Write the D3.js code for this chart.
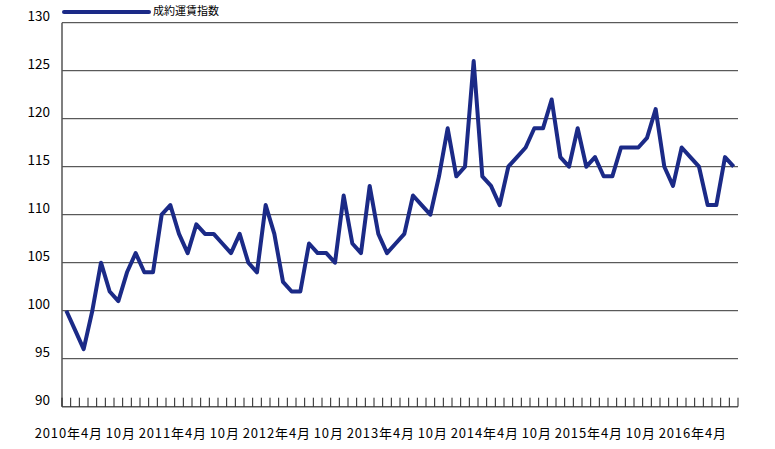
<!DOCTYPE html>
<html><head><meta charset="utf-8">
<script src="https://cdn.jsdelivr.net/npm/d3@7"></script>
<style>
body{margin:0;background:#fff;}
text{font-family:"Noto Sans CJK JP","Noto Sans",sans-serif;fill:#000;}
</style></head>
<body><svg id="c" width="775" height="449"></svg>
<script>
// Monthly index, 2010年4月 .. 2016年9月
const months = d3.range(78).map(i => { const m = 3 + i; return {y: 2010 + Math.floor(m / 12), m: (m % 12) + 1}; });
const values = [100,98,96,100,105,102,101,104,106,104,104,110,111,108,106,109,108,108,107,106,108,105,104,111,
  108,103,102,102,107,106,106,105,112,107,106,113,108,106,107,108,112,111,110,114,119,114,115,126,
  114,113,111,115,116,117,119,119,122,116,115,119,115,116,114,114,117,117,117,118,121,115,113,117,
  116,115,111,111,116,115];
const yTicks = [90,95,100,105,110,115,120,125,130];
const seriesName = "成約運賃指数";
const labelIdx = [0,6,12,18,24,30,36,42,48,54,60,66,72];

const svg = d3.select("#c");
const L = 62, R = 738, T = 22.7, B = 406.7;
const x = d3.scaleBand().domain(d3.range(values.length)).range([L, R]);
const y = d3.scaleLinear().domain([90, 130]).range([B, T]);

// gridlines
svg.append("g").selectAll("line").data(yTicks.filter(v => v > 90)).join("line")
  .attr("x1", L).attr("x2", R).attr("y1", d => y(d)).attr("y2", d => y(d))
  .attr("stroke", "#333").attr("stroke-width", 1);

// y labels
svg.append("g").selectAll("text").data(yTicks).join("text")
  .attr("x", 50).attr("y", d => y(d) - 5).attr("text-anchor", "end")
  .attr("dominant-baseline", "middle").attr("font-size", 13.5).text(d => d);

// axes lines
svg.append("line").attr("x1", L).attr("x2", L).attr("y1", T).attr("y2", B).attr("stroke", "#555").attr("stroke-width", 1.5);
svg.append("line").attr("x1", L).attr("x2", R).attr("y1", B).attr("y2", B).attr("stroke", "#555").attr("stroke-width", 1.5);

// x ticks at category boundaries
const bounds = d3.range(values.length + 1).map(k => L + k * x.step());
svg.append("g").selectAll("line").data(bounds).join("line")
  .attr("x1", d => d).attr("x2", d => d).attr("y1", B).attr("y2", B - 9)
  .attr("stroke", "#222").attr("stroke-width", 1);

// x labels
svg.append("g").selectAll("text").data(labelIdx).join("text")
  .attr("x", i => x(i) + x.bandwidth() / 2 + 2.5).attr("y", 434)
  .attr("text-anchor", "middle").attr("dominant-baseline", "middle").attr("font-size", 13)
  .attr("letter-spacing", 0.9)
  .text(i => months[i].m === 4 ? `${months[i].y}年${months[i].m}月` : `${months[i].m}月`);

// line
const line = d3.line().x((d, i) => x(i) + x.bandwidth() / 2).y(d => y(d));
svg.append("path").datum(values).attr("d", line).attr("fill", "none")
  .attr("stroke", "#1b2a87").attr("stroke-width", 4).attr("stroke-linejoin", "round");

// legend
svg.append("line").attr("x1", 64).attr("x2", 149).attr("y1", 12).attr("y2", 12)
  .attr("stroke", "#1b2a87").attr("stroke-width", 4).attr("stroke-linecap", "round");
svg.append("text").attr("x", 153).attr("y", 12.5).attr("dominant-baseline", "middle")
  .attr("font-size", 11).text(seriesName);
</script></body></html>
